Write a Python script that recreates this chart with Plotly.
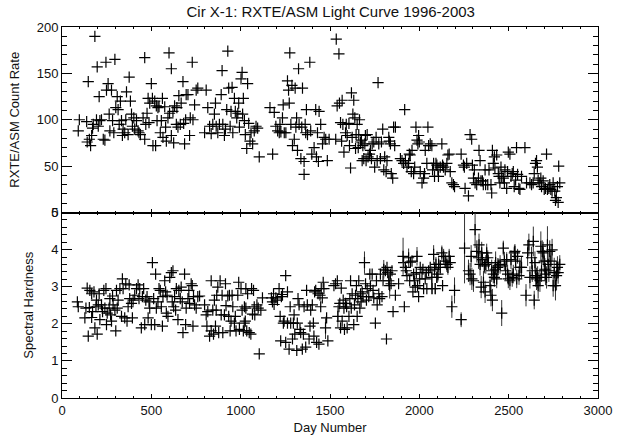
import plotly.graph_objects as go

# ---------------- Top panel: RXTE/ASM count rate ----------------
rate_day = [91, 97, 138, 147, 141, 153, 160, 166, 171, 184, 175, 193, 197, 203, 208, 212, 221, 231, 240, 246,
            249, 258, 264, 268, 277, 283, 290, 296, 301, 309, 314, 320, 327, 333, 338, 342, 351, 361, 357, 370,
            376, 383, 389, 394, 402, 407, 417, 426, 431, 439, 454, 463, 463, 469, 476, 482, 487, 491, 500, 506,
            509, 519, 524, 528, 532, 537, 543, 550, 556, 562, 565, 575, 580, 584, 593, 599, 602, 612, 612, 621,
            625, 630, 640, 643, 649, 654, 662, 667, 677, 681, 686, 692, 695, 705, 714, 718, 729, 733, 742, 751,
            760, 798, 807, 816, 826, 835, 844, 853, 863, 859, 872, 881, 891, 896, 900, 909, 915, 922, 928, 933,
            941, 946, 952, 956, 965, 970, 978, 984, 989, 993, 1002, 1008, 1011, 1015, 1021, 1026, 1034, 1039, 1045, 1052,
            1058, 1067, 1076, 1086, 1095, 1104, 1164, 1179, 1188, 1197, 1207, 1216, 1220, 1225, 1234, 1238, 1244, 1253, 1262, 1268,
            1272, 1275, 1281, 1287, 1290, 1300, 1305, 1309, 1313, 1318, 1324, 1327, 1337, 1342, 1346, 1355, 1355, 1361, 1364, 1368,
            1374, 1387, 1392, 1398, 1411, 1420, 1424, 1430, 1435, 1439, 1448, 1458, 1467, 1476, 1485, 1495, 1532,
            1535, 1550, 1540, 1553, 1568, 1559, 1565, 1572, 1578, 1587, 1591, 1596, 1606, 1609, 1615, 1620, 1628, 1633, 1624, 1639,
            1643, 1646, 1652, 1658, 1661, 1665, 1671, 1676, 1680, 1684, 1689, 1695, 1698, 1702, 1708, 1713, 1721, 1726, 1732, 1736,
            1745, 1750, 1758, 1764, 1769, 1773, 1782, 1788, 1795, 1801, 1806, 1814, 1819, 1829, 1832, 1838, 1843, 1851, 1856, 1866,
            1862, 1894, 1903, 1912, 1918, 1922, 1931, 1940, 1944, 1949, 1955, 1959, 1968, 1974, 1981, 1987, 1992, 1996, 2000, 2005,
            2015, 2024, 2029, 2033, 2042, 2048, 2052, 2061, 2070, 2074, 2080, 2085, 2093, 2098, 2104, 2107, 2117, 2126, 2130, 2135,
            2145, 2154, 2160, 2167, 2173, 2182, 2191, 2197, 2234, 2247, 2252, 2256, 2265, 2275, 2284, 2293, 2297, 2303, 2308, 2312,
            2321, 2331, 2334, 2340, 2345, 2353, 2358, 2368, 2371, 2383, 2390, 2401, 2405, 2409, 2414, 2420, 2423, 2433, 2442, 2446,
            2451, 2457, 2461, 2470, 2476, 2479, 2489, 2494, 2498, 2507, 2513, 2520, 2526, 2531, 2539, 2544, 2550, 2557, 2563, 2572,
            2591, 2600, 2619, 2628, 2637, 2643, 2650, 2656, 2661, 2665, 2674, 2680, 2684, 2693, 2699, 2706, 2712, 2717, 2725, 2730,
            2736, 2743, 2749, 2758, 2762, 2767, 2773, 2777, 2780, 2786]
rate_val = [88, 100, 98, 141, 76, 79, 72, 83, 91, 190, 95, 100, 157, 93, 125, 99, 100, 79, 78, 162,
            132, 139, 106, 88, 132, 99, 86, 165, 113, 125, 111, 95, 120, 99, 83, 90, 86, 130, 100, 84,
            146, 120, 106, 93, 102, 90, 99, 88, 86, 84, 102, 167, 79, 95, 107, 123, 97, 118, 139, 123,
            72, 120, 72, 115, 99, 113, 114, 86, 99, 123, 81, 114, 92, 77, 102, 172, 107, 155, 83, 109,
            75, 115, 95, 113, 92, 126, 95, 118, 141, 96, 74, 100, 127, 127, 83, 102, 162, 100, 116, 132,
            134, 86, 132, 113, 93, 85, 95, 106, 93, 118, 86, 95, 127, 153, 95, 83, 90, 111, 174, 134,
            93, 109, 135, 86, 123, 109, 102, 107, 118, 92, 144, 151, 106, 123, 99, 84, 69, 139, 96, 77,
            86, 74, 88, 93, 91, 60, 113, 63, 108, 93, 88, 86, 95, 87, 102, 116, 86, 86, 142, 132,
            118, 172, 95, 137, 72, 79, 134, 92, 102, 67, 155, 95, 58, 92, 134, 55, 41, 95, 86, 111,
            84, 162, 88, 63, 70, 111, 60, 86, 55, 109, 95, 74, 81, 79, 56, 79, 79,
            187, 171, 115, 118, 121, 97, 77, 95, 65, 86, 95, 83, 96, 72, 48, 129, 106, 121, 81, 102,
            69, 84, 95, 70, 84, 100, 76, 78, 56, 72, 58, 74, 83, 56, 84, 60, 63, 67, 58, 74,
            76, 49, 81, 56, 140, 74, 58, 76, 90, 46, 60, 44, 56, 81, 77, 74, 42, 37, 92, 92,
            72, 58, 56, 53, 111, 56, 49, 53, 63, 62, 44, 67, 42, 49, 92, 78, 74, 83, 76, 44,
            32, 37, 42, 67, 53, 92, 72, 74, 72, 46, 53, 39, 53, 51, 46, 39, 49, 74, 51, 49,
            46, 53, 62, 63, 44, 32, 30, 28, 63, 51, 49, 26, 53, 18, 84, 79, 51, 37, 46, 32,
            30, 37, 67, 56, 34, 34, 30, 46, 30, 30, 46, 30, 21, 67, 53, 60, 48, 62, 42, 39,
            32, 49, 39, 37, 32, 46, 26, 44, 65, 63, 39, 42, 44, 28, 35, 70, 41, 26, 25, 39,
            70, 32, 32, 30, 32, 42, 53, 56, 49, 35, 32, 37, 28, 34, 25, 26, 63, 25, 26, 30,
            25, 23, 32, 23, 13, 16, 28, 11, 50, 32]

# ---------------- Bottom panel: spectral hardness ----------------
# points whose error bars are hidden inside the plus symbol
hard_day = [86, 91, 128, 134, 141, 147, 153, 156, 166, 166, 171, 179, 184, 190, 193, 197, 203, 208, 212, 221,
            227, 234, 240, 246, 249, 253, 264, 268, 272, 277, 283, 286, 296, 301, 305, 309, 314, 324, 333, 338,
            342, 351, 357, 364, 370, 376, 379, 389, 394, 398, 407, 417, 426, 431, 435, 444, 450, 457, 463, 469,
            476, 482, 487, 491, 500, 506, 513, 519, 524, 528, 537, 543, 550, 556, 562, 565, 575, 580, 584, 588,
            593, 603, 612, 617, 621, 625, 630, 636, 640, 649, 654, 662, 667, 673, 677, 686, 692, 695, 705, 710,
            714, 723, 729, 733, 736, 742, 751, 760, 770, 798, 807, 811, 816, 826, 835, 835, 844, 848, 853, 859,
            863, 866, 872, 877, 885, 891, 896, 900, 909, 915, 918, 928, 933, 937, 941, 946, 952, 956, 965, 970,
            974, 984, 989, 993, 1002, 1008, 1015, 1021, 1026, 1034, 1039,
            1029, 1029, 1020, 1048, 1057, 1061, 1072, 1076, 1066, 1079, 1091, 1098, 1104, 1113, 1122, 1172, 1178, 1184, 1187, 1197,
            1206, 1215, 1221, 1224, 1228, 1234, 1239, 1243, 1252, 1252, 1262, 1262, 1271, 1277, 1280, 1290, 1295, 1299, 1303, 1314,
            1317, 1321, 1327, 1332, 1336, 1345, 1351, 1355, 1364, 1369, 1373, 1383, 1388, 1392, 1401, 1407, 1410, 1414, 1420, 1425,
            1433, 1438, 1444, 1448, 1451, 1457, 1462, 1466, 1481, 1488, 1522, 1531, 1541, 1550, 1555, 1559, 1563, 1568, 1574, 1578,
            1581, 1587, 1593, 1596, 1606, 1611, 1615, 1619, 1624, 1633, 1637, 1643, 1648, 1652, 1656, 1661, 1667, 1671, 1674, 1680,
            1685, 1699, 1704, 1708, 1717, 1723, 1726, 1736, 1741, 1745, 1754, 1760, 1764, 1773, 1778, 1782, 1791, 1797, 1810, 1816,
            1819, 1823, 1838, 1842, 1847, 1853, 1866, 1884, 1912, 1916, 1922, 1927, 1931, 1946, 1950, 1959, 1964, 1968, 1972, 1977,
            1983, 1990, 1996, 2002, 2005, 2015, 2020, 2024, 2033, 2039, 2042, 2052, 2061]
hard_val = [2.59, 2.46, 2.16, 2.42, 2.96, 1.67, 2.44, 2.90, 2.17, 2.81, 2.33, 2.86, 1.89, 2.46, 2.64, 1.72, 2.51, 2.81, 2.11, 2.51,
            2.33, 2.90, 2.42, 2.95, 1.98, 2.29, 2.42, 2.68, 2.24, 2.07, 2.75, 2.51, 2.37, 1.81, 2.90, 2.42, 2.64, 2.95, 2.20, 3.21,
            2.95, 2.16, 3.08, 2.07, 2.46, 3.05, 2.68, 2.55, 2.16, 2.64, 2.77, 2.95, 3.05, 2.68, 2.95, 1.89, 2.73, 2.95, 1.98, 2.64,
            2.73, 2.16, 2.59, 2.42, 1.98, 3.65, 2.68, 1.98, 3.34, 2.42, 2.59, 2.95, 2.90, 2.46, 1.94, 2.73, 3.16, 2.86, 2.29, 2.77,
            2.20, 3.25, 3.38, 2.59, 3.43, 2.46, 2.73, 2.37, 2.95, 2.11, 2.90, 2.68, 2.99, 2.59, 1.76, 3.34, 1.98, 2.42, 2.68, 2.90,
            2.55, 3.08, 3.03, 1.94, 2.73, 2.51, 2.42, 2.73, 2.75, 2.51, 2.24, 1.94, 2.33, 1.67, 3.16, 1.81, 2.37, 1.72, 2.64, 1.94,
            2.37, 2.77, 2.99, 1.76, 3.16, 2.24, 2.77, 1.76, 2.24, 3.08, 2.49, 2.75, 2.20, 2.77, 1.81, 2.07, 2.77, 2.46, 2.02, 2.20,
            1.81, 2.77, 3.12, 1.85, 2.95, 2.37, 1.81, 2.46, 2.07, 1.81, 2.81,
            2.95, 2.42, 2.02, 1.76, 1.72, 2.95, 2.90, 2.46, 2.26, 2.24, 2.51, 2.42, 1.19, 2.37, 2.70, 2.70, 2.59, 2.81, 2.52, 2.70,
            2.64, 2.95, 2.20, 1.54, 2.73, 2.79, 2.02, 2.07, 1.50, 3.30, 2.86, 2.02, 1.32, 2.46, 2.02, 1.59, 2.02, 2.24, 1.72, 1.28,
            2.02, 2.68, 2.51, 1.85, 1.76, 1.32, 1.72, 2.46, 1.37, 2.90, 2.51, 1.59, 1.94, 2.37, 2.51, 2.02, 1.67, 2.86, 2.90, 1.50,
            2.81, 1.45, 2.77, 2.46, 2.95, 2.70, 3.12, 2.95, 2.16, 1.54, 3.03, 3.08, 3.16, 2.46, 2.55, 1.89, 2.96, 2.07, 2.64, 2.42,
            1.85, 2.55, 2.46, 1.89, 2.20, 2.68, 3.16, 2.42, 2.81, 1.98, 2.51, 2.77, 3.03, 2.20, 2.68, 3.16, 2.42, 2.81, 2.59, 2.86,
            2.73, 3.08, 2.64, 2.95, 2.73, 3.34, 3.02, 3.34, 2.90, 2.70, 2.02, 3.16, 2.51, 2.81, 2.68, 3.34, 2.73, 3.16, 3.43, 1.59,
            3.52, 3.38, 3.34, 3.08, 3.43, 2.33, 2.77, 3.08, 3.65, 2.46, 3.52, 3.43, 3.30, 3.16, 3.66, 3.69, 2.86, 3.34, 3.16, 2.99,
            3.38, 3.03, 2.73, 3.21, 3.52, 3.38, 3.47, 2.95, 3.21, 3.38, 2.95, 3.43, 3.52]

# points with visible error bars
hard_day_err = [1475, 1544, 1693, 1801, 1829, 1834, 1909, 1940, 1987, 2070,
                2071, 2080, 2085, 2089, 2093, 2098, 2104, 2108, 2117, 2126, 2130, 2136, 2145, 2154, 2160, 2167, 2173, 2182, 2197, 2234,
                2253, 2275, 2284, 2290, 2294, 2303, 2312, 2322, 2331, 2334, 2340, 2346, 2349, 2353, 2359, 2364, 2368, 2372, 2377, 2383,
                2387, 2396, 2401, 2405, 2409, 2414, 2420, 2424, 2427, 2433, 2439, 2442, 2452, 2461, 2470, 2476, 2483, 2489, 2494, 2498,
                2507, 2513, 2520, 2526, 2532, 2535, 2539, 2545, 2550, 2558, 2563, 2572, 2597, 2606, 2613, 2619, 2628, 2632, 2638, 2643,
                2647, 2651, 2656, 2662, 2665, 2675, 2680, 2684, 2688, 2693, 2699, 2703, 2706, 2712, 2717, 2721, 2725, 2730, 2736, 2743,
                2749, 2755, 2762, 2768, 2773, 2777, 2786]
hard_val_err = [1.89, 2.20, 3.65, 3.47, 3.16, 3.03, 3.82, 3.78, 3.82, 3.25,
                2.95, 3.87, 3.47, 2.95, 3.60, 3.25, 3.34, 3.60, 3.52, 3.91, 3.03, 3.82, 3.69, 3.60, 3.52, 3.82, 3.65, 2.46, 2.90, 2.11,
                4.04, 3.43, 3.34, 3.82, 3.21, 3.16, 4.54, 3.95, 3.78, 4.13, 3.60, 2.99, 3.91, 3.73, 3.12, 3.56, 2.86, 3.60, 3.91, 3.78,
                3.65, 3.03, 2.77, 3.43, 2.64, 3.34, 3.25, 3.47, 3.65, 3.21, 3.52, 3.56, 3.60, 2.29, 4.04, 3.69, 3.43, 3.73, 3.34, 3.21,
                3.16, 3.73, 3.25, 3.34, 3.91, 3.95, 3.69, 3.21, 3.82, 3.30, 3.52, 3.52, 2.77, 3.91, 4.13, 3.25, 3.78, 3.43, 4.22, 2.64,
                3.65, 3.30, 3.21, 3.25, 3.03, 3.16, 4.09, 3.43, 3.95, 3.91, 3.69, 3.47, 3.34, 3.25, 4.13, 3.60, 3.43, 3.95, 3.69, 3.99,
                3.03, 3.38, 3.03, 3.30, 3.52, 3.38, 3.60]
hard_err = [0.3, 0.3, 0.3, 0.25, 0.25, 0.35, 0.5, 0.25, 0.25, 0.3,
            0.15, 0.25, 0.2, 0.15, 0.2, 0.15, 0.2, 0.2, 0.2, 0.2, 0.15, 0.2, 0.2, 0.2, 0.2, 0.2, 0.2, 0.3, 0.35, 0.2,
            0.95, 0.3, 0.3, 0.3, 0.3, 0.3, 0.5, 0.3, 0.3, 0.3, 0.3, 0.3, 0.3, 0.2, 0.3, 0.2, 0.3, 0.25, 0.25, 0.2,
            0.2, 0.25, 0.3, 0.3, 0.3, 0.25, 0.25, 0.25, 0.3, 0.25, 0.25, 0.2, 0.25, 0.35, 0.2, 0.25, 0.25, 0.2, 0.25, 0.25,
            0.25, 0.25, 0.25, 0.25, 0.2, 0.2, 0.25, 0.25, 0.2, 0.25, 0.25, 0.3, 0.3, 0.35, 0.3, 0.3, 0.3, 0.3, 0.4, 0.25,
            0.3, 0.3, 0.3, 0.3, 0.35, 0.3, 0.4, 0.3, 0.3, 0.3, 0.3, 0.3, 0.3, 0.3, 0.5, 0.3, 0.3, 0.3, 0.3, 0.3,
            0.3, 0.4, 0.4, 0.4, 0.3, 0.3, 0.25]

FONT = "Liberation Sans"
marker = dict(symbol="cross-thin", size=8, color="black", line=dict(width=1.2, color="black"))

fig = go.Figure()
fig.add_trace(go.Scatter(x=rate_day, y=rate_val, mode="markers", marker=marker,
                         xaxis="x", yaxis="y", showlegend=False))
fig.add_trace(go.Scatter(x=hard_day, y=hard_val, mode="markers", marker=marker,
                         xaxis="x2", yaxis="y2", showlegend=False))
fig.add_trace(go.Scatter(x=hard_day_err, y=hard_val_err, mode="markers", marker=marker,
                         error_y=dict(type="data", array=hard_err, visible=True, thickness=1, width=0, color="#333"),
                         xaxis="x2", yaxis="y2", showlegend=False))

common = dict(showline=True, linecolor="black", linewidth=1, mirror="ticks", ticks="inside",
              tickcolor="black", showgrid=False, zeroline=False,
              tickfont=dict(family=FONT, size=13, color="#111"))

fig.update_layout(
    width=624, height=445,
    margin=dict(l=62, r=24, t=27, b=38),
    paper_bgcolor="white", plot_bgcolor="white",
    title=dict(text="Cir X-1: RXTE/ASM Light Curve 1996-2003", x=0.53, xanchor="center",
               y=0.973, yanchor="middle", font=dict(family=FONT, size=15, color="#111")),
    xaxis=dict(domain=[0, 1], range=[0, 3000], anchor="y", showticklabels=False,
               dtick=500, ticklen=4, minor=dict(dtick=100, ticklen=2, ticks="inside", tickcolor="black"),
               **common),
    yaxis=dict(domain=[0.5, 1], range=[0, 200], anchor="x", dtick=50, ticklen=10,
               minor=dict(dtick=10, ticklen=5, ticks="inside", tickcolor="black"),
               title=dict(text="RXTE/ASM Count Rate", font=dict(family=FONT, size=13, color="#111"), standoff=14),
               **common),
    xaxis2=dict(domain=[0, 1], range=[0, 3000], anchor="y2", dtick=500, ticklen=4,
                minor=dict(dtick=100, ticklen=2, ticks="inside", tickcolor="black"),
                title=dict(text="Day Number", font=dict(family=FONT, size=13, color="#111"), standoff=6),
                **common),
    yaxis2=dict(domain=[0, 0.5], range=[0, 5], anchor="x2", dtick=1, ticklen=10,
                minor=dict(dtick=0.2, ticklen=5, ticks="inside", tickcolor="black"),
                title=dict(text="Spectral Hardness", font=dict(family=FONT, size=13, color="#111"), standoff=14),
                **common),
)

fig.write_html("out.html")
